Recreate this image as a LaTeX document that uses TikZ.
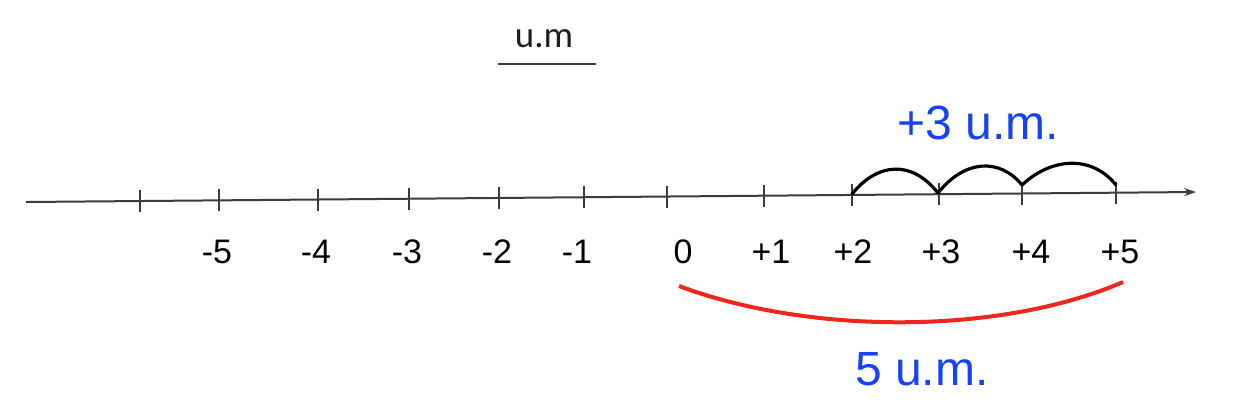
\documentclass[tikz,border=0pt]{standalone}
\usepackage{fontspec}
\setmainfont{Liberation Sans}
\newfontfamily\umfont{Carlito}
\usetikzlibrary{arrows.meta}
\definecolor{axisgray}{RGB}{60,60,60}
\definecolor{lblblue}{RGB}{22,66,250}
\definecolor{arcred}{RGB}{238,38,30}
\tikzset{
  axis/.style={draw=axisgray, line width=1pt, -{Stealth[length=6pt,width=4pt]}},
  tickmark/.style={draw=axisgray, line width=0.75pt},
  numlbl/.style={anchor=base, inner sep=0pt, font=\fontsize{17}{20}\selectfont, text=black},
  bluelbl/.style={anchor=base, inner sep=0pt, font=\fontsize{24}{28}\selectfont, text=lblblue},
  hop/.style={draw=black, line width=1.6pt, line cap=round, line join=round},
  span/.style={draw=arcred, line width=2pt},
}
\begin{document}
\begin{tikzpicture}[x=0.5pt,y=-0.5pt]
\useasboundingbox (0,0) rectangle (1242,414);
% title
\node[anchor=base, inner sep=0pt, font=\umfont\fontsize{18.5}{22}\selectfont, text={rgb,255:red,30;green,30;blue,30}] (um) at (544,47) {u.m};
\coordinate (ulA) at (498,64);
\coordinate (ulB) at (596,64);
\draw[draw=axisgray, line width=0.8pt] (ulA) -- (ulB);
% axis
\coordinate (L) at (26,202);
\coordinate (R) at (1196,192);
\draw[axis] (L) -- (R);
% ticks and labels
\foreach \n/\x/\y/\lx/\t in {u/140/201.0/140/,m5/219/200.3/217/-5,m4/318/199.5/316/-4,m3/409/198.7/407/-3,m2/499/198.0/497/-2,m1/584/197.2/577/-1,z/667/196.5/683/0,p1/764/195.7/771/+1,p2/852/194.9/853/+2,p3/939/194.2/941/+3,p4/1022/193.5/1031/+4,p5/1116/192.7/1120/+5}{
  \coordinate (t\n) at (\x,\y);
  \draw[tickmark] (\x,\y-11) -- (\x,\y+11);
  \node[numlbl] (l\n) at (\lx,263) {\t};
}
% hops
\coordinate (a2) at (852,194);
\coordinate (a3) at (938,193);
\coordinate (a4) at (1022,185);
\coordinate (a5) at (1116,185);
\draw[hop] (a2) .. controls (878,162) and (912,160) .. (a3);
\draw[hop] (a3) .. controls (965,159) and (1000,158) .. (a4);
\draw[hop] (a4) .. controls (1052,157) and (1092,155) .. (a5);
\node[bluelbl] (plus3) at (978,139) {+3 u.m.};
% red span
\coordinate (s0) at (679,286);
\coordinate (s5) at (1123,282);
\draw[span] (s0) .. controls (810,335) and (1000,335) .. (s5);
\node[bluelbl] (five) at (922,385) {5 u.m.};
\end{tikzpicture}
\end{document}
